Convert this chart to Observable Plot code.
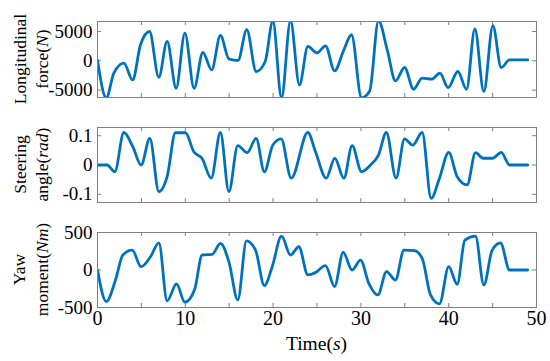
<!DOCTYPE html>
<html><head><meta charset="utf-8">
<script src="https://cdn.jsdelivr.net/npm/d3@7"></script>
<script src="https://cdn.jsdelivr.net/npm/@observablehq/plot@0.6"></script>
<style>
html,body{margin:0;padding:0;background:#fff;}
#chart{position:relative;width:550px;height:361px;overflow:hidden;background:#fff;}
#chart svg{position:absolute;left:0;overflow:visible;}
</style></head><body><div id="chart"></div>
<script>
// ---- data ----
const forceT = [0, 1.0, 1.86, 3.0, 4.0, 4.9, 5.92, 6.98, 7.93, 8.96, 9.95, 11.0, 12.0, 13.0, 14.0, 14.96, 16.0, 17.0, 18.07, 19.1, 19.97, 20.96, 21.98, 23.0, 23.96, 25.0, 25.97, 27.0, 28.06, 28.93, 30.07, 31.0, 32.0, 33.0, 33.94, 34.97, 36.0, 36.98, 38.04, 39.0, 39.94, 41.04, 42.03, 42.98, 44.0, 45.03, 45.98, 46.93, 49.0];
const forceV = [100, -6300, -2100, -400, -3250, 2740, 5000, -2800, 3300, -4670, 4730, -4670, 1420, -1540, 4330, 340, 60, 5300, -1820, -110, 6800, -6300, 6800, -4100, 2450, 1350, 2560, -1710, 1880, 4440, -6300, -5130, 6800, 1880, -3420, -1140, -4840, -2960, -3130, -2110, -4560, -1820, -4840, 5420, -5240, 5990, -1140, 150, 150];

const steerT = [0, 1.1, 1.97, 3.0, 4.02, 4.97, 5.96, 6.99, 7.93, 8.88, 10.02, 10.97, 11.9, 12.95, 14.0, 14.96, 15.98, 17.05, 18.07, 19.0, 19.97, 20.92, 22.06, 23.96, 24.83, 26.05, 27.03, 28.06, 29.0, 30.07, 31.1, 32.0, 32.9, 34.0, 34.97, 35.9, 36.98, 38.0, 38.95, 40.0, 40.97, 42.1, 43.05, 43.93, 45.0, 45.98, 46.93, 49.0];
const steerV = [0, 0, -0.023, 0.111, 0.0625, 0, 0.091, -0.091, -0.04, 0.110, 0.110, 0.045, 0.023, -0.045, 0.111, -0.091, 0.066, 0.042, 0.091, -0.023, 0.068, 0.089, -0.045, 0.111, 0.045, -0.045, 0.023, -0.045, 0.066, -0.023, 0, 0.034, 0.111, -0.045, 0.089, 0.068, 0.111, -0.114, -0.045, 0.043, -0.04, -0.068, 0.042, 0.023, 0.023, 0.043, 0, 0];

const yawT = [0, 1.0, 2.05, 2.89, 3.95, 4.97, 6.04, 6.99, 7.93, 9.0, 9.95, 11.05, 11.92, 13.06, 14.0, 14.96, 15.98, 16.97, 18.0, 19.0, 19.9, 20.96, 21.98, 22.93, 23.96, 24.83, 25.97, 27.0, 27.98, 29.0, 29.96, 30.9, 31.93, 32.92, 33.94, 34.9, 36.1, 36.98, 37.93, 38.95, 40.0, 40.97, 41.84, 43.05, 44.0, 44.95, 45.9, 46.93, 49.0];
const yawV = [0, -420, -133, 200, 265, 44, 177, 363, -411, -186, -429, -265, 200, 208, 354, 111, -398, 389, 265, -208, 44, 451, 200, 310, -66, -35, 58, -221, 235, 0, 133, -177, -332, -22, -133, 265, 257, 155, -332, -451, 44, -190, 398, 451, -199, 265, 363, 0, 0];

const xTicks = [0, 5, 10, 15, 20, 25, 30, 35, 40, 45, 50];
const xLabels = [0, 10, 20, 30, 40, 50];
const forceTicks = [-5000, 0, 5000];
const steerTicks = [-0.1, 0, 0.1];
const yawTicks = [-500, 0, 500];

// ---- drawing ----
const W = 550, ML = 97, MR = 14;
const FONT = '"Liberation Serif","Times New Roman",serif';
const BLUE = "#0072BD", GRAY = "#808080";
const chart = document.getElementById("chart");

function panel({t, v, yDomain, yTicks, top, height, mt, mb, bottomAxis, title}) {
  const plotH = height - mt - mb, plotW = W - ML - MR;
  const data = t.map((x, i) => ({x, y: v[i]}));
  const marks = [
    Plot.tickX(xTicks, {x: d => d, stroke: GRAY, insetTop: plotH - 4}),
    Plot.tickX(xTicks, {x: d => d, stroke: GRAY, insetBottom: plotH - 4}),
    Plot.tickY(yTicks, {y: d => d, stroke: GRAY, insetRight: plotW - 4}),
    Plot.tickY(yTicks, {y: d => d, stroke: GRAY, insetLeft: plotW - 4}),
    Plot.axisY(yTicks, {anchor: "left", tickSize: 0, tickPadding: 5, tickFormat: d => String(d), fontSize: 19, label: null, fill: "#000"}),
    Plot.lineY(data, {x: "x", y: "y", stroke: BLUE, strokeWidth: 2.8, curve: "monotone-x", clip: true}),
    Plot.frame({stroke: GRAY})
  ];
  if (bottomAxis) marks.push(Plot.axisX(xLabels, {anchor: "bottom", tickSize: 0, tickPadding: 3, fontSize: 20, label: null, fill: "#000", tickFormat: d => String(d)}));
  const svg = Plot.plot({
    width: W, height,
    marginLeft: ML, marginRight: MR, marginTop: mt, marginBottom: mb,
    style: {fontFamily: FONT, color: "#000", background: "transparent"},
    x: {domain: [0, 50], axis: bottomAxis ? undefined : null},
    y: {domain: yDomain},
    marks
  });
  svg.style.top = top + "px";
  chart.appendChild(svg);
  const s = d3.select(svg);
  const cy = mt + plotH / 2;
  title.forEach((line) => {
    const tx = s.append("text")
      .attr("transform", `translate(${line.x},${cy}) rotate(-90)`)
      .attr("text-anchor", "middle")
      .attr("font-family", FONT).attr("font-size", 17.5).attr("fill", "#000");
    line.parts.forEach(([str, it]) => {
      tx.append("tspan").attr("font-style", it ? "italic" : "normal").text(str);
    });
  });
  return s;
}

panel({t: forceT, v: forceV, yDomain: [-6250, 6700], yTicks: forceTicks, top: 0, height: 110, mt: 21, mb: 13, bottomAxis: false,
  title: [{x: 26, parts: [["Longitudinal", false]]}, {x: 48, parts: [["force(", false], ["N", true], [")", false]]}]});
panel({t: steerT, v: steerV, yDomain: [-0.128, 0.128], yTicks: steerTicks, top: 110, height: 110, mt: 17, mb: 18, bottomAxis: false,
  title: [{x: 26, parts: [["Steering", false]]}, {x: 48, parts: [["angle(", false], ["rad", true], [")", false]]}]});
const s3 = panel({t: yawT, v: yawV, yDomain: [-500, 500], yTicks: yawTicks, top: 220, height: 141, mt: 12, mb: 54, bottomAxis: true,
  title: [{x: 25, parts: [["Yaw", false]]}, {x: 48, parts: [["moment(", false], ["Nm", true], [")", false]]}]});
const xt = s3.append("text").attr("x", (ML + W - MR) / 2).attr("y", 130)
  .attr("text-anchor", "middle").attr("font-family", FONT).attr("font-size", 19.5).attr("fill", "#000");
xt.append("tspan").text("Time(");
xt.append("tspan").attr("font-style", "italic").text("s");
xt.append("tspan").text(")");
</script></body></html>
